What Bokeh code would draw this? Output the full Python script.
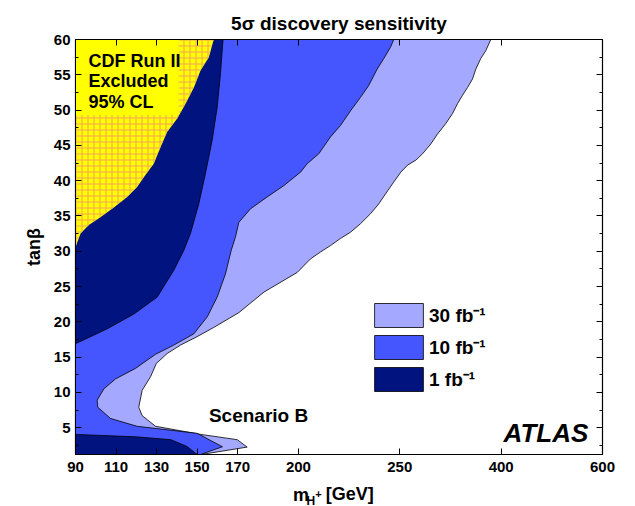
import numpy as np
from bokeh.plotting import figure
from bokeh.layouts import column
from bokeh.models import LinearAxis, FixedTicker, Range1d, Legend, LegendItem
from bokeh.core.properties import value
from bokeh.embed import file_html
from bokeh.resources import INLINE

# ---------------- data ----------------
# x axis: linear in m_H+ up to 250 GeV, compressed above (250, 400, 600 equally spaced)
axis_mass = [90, 250, 400, 600]
axis_pos = [90, 250, 300, 350]

x_tick_values = [90, 110, 130, 150, 170, 200, 250, 400, 600]
x_tick_labels = ["90", "110", "130", "150", "170", "200", "250", "400", "600"]
y_tick_values = [5, 10, 15, 20, 25, 30, 35, 40, 45, 50, 55, 60]
y_minor_values = [2.5, 5, 7.5, 10, 12.5, 15, 17.5, 20, 22.5, 25, 27.5, 30, 32.5, 35,
                  37.5, 40, 42.5, 45, 47.5, 50, 52.5, 55, 57.5, 60]

# 30 fb^-1 contour (bottom -> top)
c30_m = [152.0, 174.7, 169.8, 151.7, 129.5, 122.9, 121.2, 122.9, 127.0, 129.9, 135.2,
         141.8, 150.0, 158.2, 170.6, 182.9, 199.4, 205.9, 210.9, 215.8, 220.7, 225.7,
         230.6, 235.5, 239.6, 242.9, 247.0, 251.5, 261.4, 273.7, 283.6, 295.9, 305.8,
         318.1, 328.0, 335.4, 342.8, 350.3, 357.6, 362.5, 369.8, 377.2, 384.7]
c30_t = [1.2, 2.25, 3.3, 4.05, 5.2, 6.7, 7.9, 10.3, 12.2, 14.1, 15.5,
         16.7, 17.9, 19.2, 21.3, 24.2, 27.0, 28.9, 29.9, 30.8, 31.8, 32.7,
         33.9, 35.3, 36.7, 38.1, 39.8, 41.2, 42.2, 42.9, 43.8, 45.2, 46.6,
         48.1, 49.5, 50.9, 52.1, 53.2, 54.4, 55.8, 57.3, 58.4, 60.0]

# 10 fb^-1 contour (bottom -> top)
c10_m = [151.7, 162.5, 150.0, 120.4, 107.3, 101.0, 100.7, 104.0, 109.7, 119.6, 129.5,
         138.5, 148.4, 155.0, 159.9, 164.0, 166.8, 168.9, 170.6, 176.3, 184.6, 192.8,
         201.0, 204.3, 210.0, 215.8, 220.7, 225.7, 230.6, 234.7, 238.8, 242.1, 245.4, 247.0]
c10_t = [1.2, 2.3, 4.2, 5.2, 6.3, 7.9, 8.9, 10.5, 11.9, 13.4, 15.4,
         16.7, 18.3, 20.7, 23.5, 26.8, 30.1, 32.0, 34.1, 36.0, 37.7, 39.3,
         41.2, 42.4, 43.8, 46.2, 47.8, 49.9, 51.8, 53.5, 55.8, 57.3, 58.9, 60.0]

# 1 fb^-1 contour, upper part (left axis -> top)
c1u_m = [90.0, 105.6, 118.8, 130.3, 138.5, 143.4, 146.7, 150.8, 154.1, 157.4, 159.9, 161.5, 162.8]
c1u_t = [16.9, 19.0, 21.1, 23.5, 27.3, 30.1, 32.5, 36.7, 41.0, 45.7, 50.4, 55.1, 60.0]

# 1 fb^-1 contour, lower part (left axis -> bottom)
c1l_m = [90.0, 120.0, 137.0, 145.0, 150.0]
c1l_t = [4.05, 3.7, 3.3, 2.35, 1.2]

# CDF Run II excluded (95% CL) boundary (left axis -> top)
cdf_m = [90.0, 92.5, 96.6, 102.3, 108.9, 115.5, 120.4, 123.7, 128.6, 131.9, 135.2,
         140.2, 144.3, 148.4, 151.7, 155.8, 158.2]
cdf_t = [30.6, 32.5, 33.7, 34.8, 36.2, 37.7, 39.1, 40.5, 42.4, 44.7, 46.9,
         48.8, 50.9, 53.2, 55.6, 57.5, 60.0]

legend_labels = ["30 fb\u207b\u00b9", "10 fb\u207b\u00b9", "1 fb\u207b\u00b9"]

X0, X1 = 90, 600
Y0, Y1 = 1.2, 60

def xs(m):
    return [float(v) for v in np.interp(m, axis_mass, axis_pos)]

C_LIGHT = "#A4A9FF"
C_MED = "#4656FF"
C_DARK = "#00137F"
C_YEL = "#FFFF00"
C_HATCH = "#F2A35E"
FONT = "Liberation Sans"

x_range = Range1d(xs([X0])[0], xs([X1])[0])

p = figure(width=635, height=480, output_backend="svg", toolbar_location=None,
           x_range=x_range, y_range=Range1d(Y0, Y1),
           min_border_left=75, min_border_right=33, min_border_top=39, min_border_bottom=26,
           x_axis_type=None, y_axis_type=None)
p.grid.visible = False
p.outline_line_color = "black"
p.outline_line_width = 1.2
p.background_fill_color = "white"
p.border_fill_color = "white"

p.title.text = "5\u03c3 discovery sensitivity"
p.title.align = "center"
p.title.text_font = FONT
p.title.text_font_size = "19px"
p.title.text_font_style = "bold"
p.title.text_color = "black"
p.title.standoff = 11

xt = FixedTicker(ticks=xs(x_tick_values), minor_ticks=[])
yt = FixedTicker(ticks=y_tick_values, minor_ticks=y_minor_values)
overrides = {v: lab for v, lab in zip(xs(x_tick_values), x_tick_labels)}

def style_axis(ax, show_labels):
    ax.major_tick_in = 6
    ax.major_tick_out = 0
    ax.minor_tick_in = 3
    ax.minor_tick_out = 0
    ax.axis_line_color = "black"
    ax.major_tick_line_color = "black"
    ax.minor_tick_line_color = "black"
    ax.major_label_text_font = FONT
    ax.major_label_text_font_style = "bold"
    ax.major_label_text_color = "black"
    ax.major_label_text_font_size = "15px"
    if not show_labels:
        ax.major_label_text_font_size = "1px"
        ax.major_label_standoff = 0

bx = LinearAxis(ticker=xt, major_label_overrides=overrides)
style_axis(bx, True)
bx.major_label_standoff = 7
p.add_layout(bx, "below")
tx = LinearAxis(ticker=xt, major_label_overrides={v: "" for v in xs(x_tick_values)})
style_axis(tx, False)
p.add_layout(tx, "above")
ly = LinearAxis(ticker=yt, axis_label="tan\u03b2")
style_axis(ly, True)
ly.major_label_standoff = 5
ly.axis_label_text_font = FONT
ly.axis_label_text_font_style = "bold"
ly.axis_label_text_font_size = "18px"
ly.axis_label_text_color = "black"
ly.axis_label_standoff = 7
p.add_layout(ly, "left")
ry = LinearAxis(ticker=yt, major_label_overrides={v: "" for v in y_tick_values})
style_axis(ry, False)
p.add_layout(ry, "right")

r30 = p.patch(xs([X0] + c30_m + [X0]), [Y0] + c30_t + [Y1],
              fill_color=C_LIGHT, line_color="black", line_width=0.8)
r10 = p.patch(xs([X0] + c10_m + [X0]), [Y0] + c10_t + [Y1],
              fill_color=C_MED, line_color="black", line_width=0.8)
r1 = p.patch(xs([X0] + c1u_m), [Y1] + c1u_t,
             fill_color=C_DARK, line_color="black", line_width=0.8)
p.patch(xs([X0] + c1l_m), [Y0] + c1l_t,
        fill_color=C_DARK, line_color="black", line_width=0.8)
p.patch(xs(cdf_m + [X0]), cdf_t + [Y1], fill_color=C_YEL, line_alpha=0,
        hatch_pattern="+", hatch_color=C_HATCH, hatch_scale=6, hatch_weight=1)
# solid box behind the CDF text
p.quad(left=xs([90])[0], right=xs([141])[0], bottom=49.3, top=60,
       fill_color=C_YEL, line_alpha=0)

p.text(x=xs([96.4, 96.4, 96.4]), y=[57.0, 54.05, 51.1],
       text=["CDF Run II", "Excluded", "95% CL"],
       text_font=value(FONT), text_font_style="bold", text_font_size="18px",
       text_baseline="middle", text_align="left", text_color="black")
p.text(x=xs([180.3]), y=[6.74], text=["Scenario B"],
       text_font=value(FONT), text_font_style="bold", text_font_size="19px",
       text_baseline="middle", text_align="center", text_color="black")
p.text(x=xs([572]), y=[4.2], text=["ATLAS"],
       text_font=value(FONT), text_font_style="bold italic", text_font_size="26px",
       text_baseline="middle", text_align="right", text_color="black")

legend = Legend(items=[LegendItem(label=legend_labels[0], renderers=[r30]),
                       LegendItem(label=legend_labels[1], renderers=[r10]),
                       LegendItem(label=legend_labels[2], renderers=[r1])],
                location=(293, 60), glyph_width=61, glyph_height=30, label_height=30,
                spacing=2, padding=0, margin=0, label_standoff=0,
                border_line_alpha=0, background_fill_alpha=0,
                label_text_font=FONT, label_text_font_style="bold",
                label_text_font_size="19px", label_text_color="black")
p.add_layout(legend)

# x-axis title  m_{H+} [GeV]  drawn in a strip under the plot, sharing the x range
q = figure(width=635, height=26, output_backend="svg", toolbar_location=None,
           x_range=x_range, y_range=Range1d(26, 0),
           min_border_left=75, min_border_right=33, min_border_top=0, min_border_bottom=0,
           x_axis_type=None, y_axis_type=None)
q.grid.visible = False
q.outline_line_color = None
q.border_fill_color = "white"
q.background_fill_color = "white"
# positions: mass coordinates of the text pieces (x) and pixel offsets in the strip (y)
for txt, mx, py, size in [("m", 197.3, 14.0, "18px"), ("H", 204.0, 20.5, "12px"),
                          ("+", 208.3, 13.5, "11px"), ("[GeV]", 213.5, 13.5, "18px")]:
    q.text(x=xs([mx]), y=[py], text=[txt], text_font=value(FONT), text_font_style="bold",
           text_font_size=size, text_baseline="alphabetic", text_align="left",
           text_color="black")

layout = column(p, q, spacing=0)
open("out.html", "w").write(file_html(layout, INLINE))
